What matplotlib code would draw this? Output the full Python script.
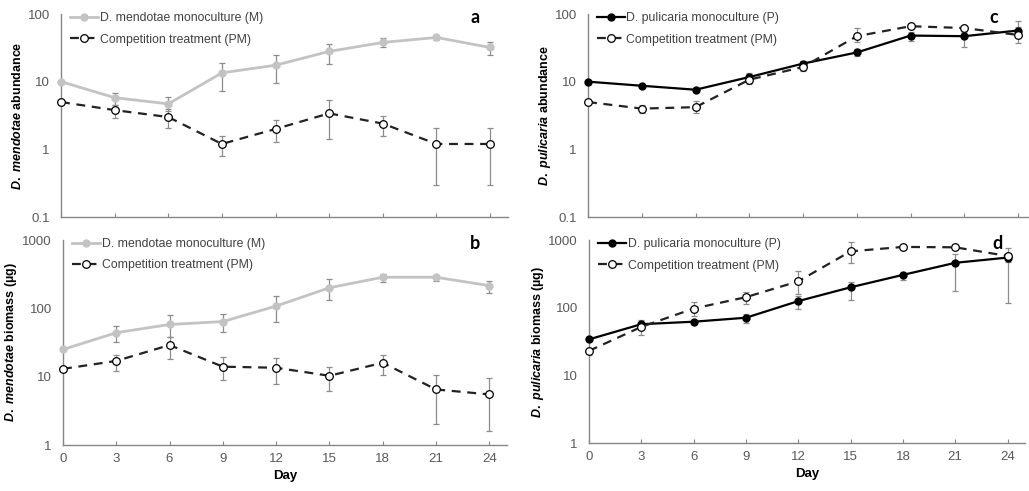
import matplotlib
matplotlib.use("Agg")
import matplotlib.pyplot as plt
import numpy as np

plt.rcParams['font.family'] = ['Liberation Sans', 'DejaVu Sans']
plt.rcParams['mathtext.fontset'] = 'custom'
plt.rcParams['mathtext.it'] = 'Liberation Sans:italic:bold'
plt.rcParams['mathtext.rm'] = 'Liberation Sans:bold'

days = [0, 3, 6, 9, 12, 15, 18, 21, 24]

# a: D. mendotae abundance
a_m = [10, 5.8, 4.7, 13.5, 17.5, 28, 38, 45, 32]
a_m_lo = [10, 4.5, 3.7, 7.3, 9.5, 18, 32, 41, 25]
a_m_hi = [10, 6.8, 6.0, 19, 25, 36, 44, 49, 38]
a_pm = [5, 3.8, 3.0, 1.2, 2.0, 3.4, 2.4, 1.2, 1.2]
a_pm_lo = [5, 2.9, 2.1, 0.8, 1.3, 1.4, 1.55, 0.3, 0.3]
a_pm_hi = [5, 4.5, 3.9, 1.6, 2.7, 5.4, 3.1, 2.05, 2.05]

# b: D. mendotae biomass
b_m = [25, 44, 58, 64, 108, 200, 285, 285, 215]
b_m_lo = [25, 32, 38, 45, 63, 133, 245, 255, 165]
b_m_hi = [25, 56, 80, 83, 152, 270, 320, 310, 255]
b_pm = [13, 17, 29, 14, 13.5, 10.3, 16, 6.5, 5.5]
b_pm_lo = [13, 12, 18, 8.8, 7.8, 6.2, 10.5, 2.0, 1.6]
b_pm_hi = [13, 21, 38, 19.5, 19, 14, 21, 10.7, 9.5]

# c: D. pulicaria abundance
c_p = [10, 8.7, 7.6, 11.7, 18.5, 27, 48, 47, 57]
c_p_lo = [10, 8.7, 7.6, 11, 17, 24, 40, 32, 45]
c_p_hi = [10, 8.7, 7.6, 13, 20, 30, 55, 55, 78]
c_pm = [5, 4.0, 4.2, 10.7, 16.5, 47, 66, 62, 49]
c_pm_lo = [5, 3.4, 3.4, 9.2, 14.5, 38, 62, 58, 37]
c_pm_hi = [5, 4.5, 5.2, 13.5, 19, 62, 70, 66, 65]

# d: D. pulicaria biomass
d_p = [34, 57, 62, 71, 125, 200, 305, 460, 550]
d_p_lo = [32, 54, 57, 60, 97, 130, 260, 177, 480]
d_p_hi = [36, 60, 66, 80, 150, 240, 330, 620, 650]
d_pm = [23, 52, 97, 143, 245, 680, 790, 780, 580]
d_pm_lo = [20, 39, 75, 113, 160, 450, 760, 750, 117]
d_pm_hi = [25, 65, 120, 170, 345, 920, 830, 820, 760]

W, H = 1029, 491
fig = plt.figure(figsize=(W / 100, H / 100), dpi=100)

def box(l, r, t, b):
    return [l / W, 1 - b / H, (r - l) / W, (b - t) / H]

axis_col = '#868686'
tick_col = '#595959'
err_col = '#8c8c8c'

panels = [
    dict(rect=box(61, 508, 14, 217), ylim=(0.1, 100), mono=(a_m, a_m_lo, a_m_hi),
         comp=(a_pm, a_pm_lo, a_pm_hi), sp='mendotae', kind='abundance', letter='a',
         xlab=False, lab_M='D. mendotae monoculture (M)', grey=True, lx=-0.083, tx=0.926),
    dict(rect=box(63, 507, 240, 445), ylim=(1, 1000), mono=(b_m, b_m_lo, b_m_hi),
         comp=(b_pm, b_pm_lo, b_pm_hi), sp='mendotae', kind='biomass (µg)', letter='b',
         xlab=True, lab_M='D. mendotae monoculture (M)', grey=True, lx=-0.099, tx=0.928),
    dict(rect=box(588, 1036, 14, 217), ylim=(0.1, 100), mono=(c_p, c_p_lo, c_p_hi),
         comp=(c_pm, c_pm_lo, c_pm_hi), sp='pulicaria', kind='abundance', letter='c',
         xlab=False, lab_M='D. pulicaria monoculture (P)', grey=False, lx=-0.078, tx=0.906),
    dict(rect=box(589, 1025, 240, 443), ylim=(1, 1000), mono=(d_p, d_p_lo, d_p_hi),
         comp=(d_pm, d_pm_lo, d_pm_hi), sp='pulicaria', kind='biomass (µg)', letter='d',
         xlab=True, lab_M='D. pulicaria monoculture (P)', grey=False, lx=-0.099, tx=0.936),
]

for p in panels:
    ax = fig.add_axes(p['rect'])
    ax.set_yscale('log')
    ax.set_ylim(*p['ylim'])
    ax.set_xlim(0, 25)
    for s in ['top', 'right']:
        ax.spines[s].set_visible(False)
    for s in ['left', 'bottom']:
        ax.spines[s].set_color(axis_col)
        ax.spines[s].set_linewidth(1.0)
    ax.set_xticks(days)
    ax.tick_params(axis='x', direction='in', length=3, color=axis_col, labelsize=9.5,
                   labelcolor=tick_col, pad=6, labelbottom=p['xlab'])
    ax.tick_params(axis='y', which='both', length=0, labelsize=9.5, labelcolor=tick_col, pad=8)
    ax.yaxis.set_major_formatter(matplotlib.ticker.FuncFormatter(lambda v, _: ('%g' % v)))
    ax.yaxis.set_minor_locator(matplotlib.ticker.NullLocator())

    mv, mlo, mhi = [np.array(v, float) for v in p['mono']]
    cv, clo, chi = [np.array(v, float) for v in p['comp']]
    ax.errorbar(days, mv, yerr=[mv - mlo, mhi - mv], fmt='none', ecolor=err_col,
                elinewidth=0.9, capsize=2, capthick=0.9, zorder=2)
    ax.errorbar(days, cv, yerr=[cv - clo, chi - cv], fmt='none', ecolor=err_col,
                elinewidth=0.9, capsize=2, capthick=0.9, zorder=2)
    if p['grey']:
        ax.plot(days, mv, color='#c3c3c3', lw=2, marker='o', ms=5, mfc='#c3c3c3',
                mec='#c3c3c3', label=p['lab_M'], zorder=3, clip_on=False)
    else:
        ax.plot(days, mv, color='black', lw=1.6, marker='o', ms=5, mfc='black',
                mec='black', label=p['lab_M'], zorder=3, clip_on=False)
    ax.plot(days, cv, color='#222222', lw=1.6, ls=(0, (4, 3)), marker='o', ms=5.5,
            mfc='white', mec='black', mew=0.9, label='Competition treatment (PM)',
            zorder=4, clip_on=False)

    ax.set_ylabel(r'$D.\ %s$ %s' % (p['sp'], p['kind']), fontsize=9, fontweight='bold',
                  color='black')
    ax.yaxis.set_label_coords(p['lx'], 0.5)
    if p['xlab']:
        ax.set_xlabel('Day', fontsize=9.5, fontweight='bold', labelpad=3)
    ax.text(p['tx'], 1.025, p['letter'], transform=ax.transAxes, fontsize=13,
            fontweight='bold', family='Lato', ha='center', va='top')
    leg = ax.legend(loc='upper left', bbox_to_anchor=(0.0, 1.05), frameon=False,
                    fontsize=8.8, handlelength=2.3, handletextpad=0.15, labelspacing=0.75,
                    borderaxespad=0.3)
    for t in leg.get_texts():
        t.set_color('#404040')

fig.savefig('out.png', dpi=100)
